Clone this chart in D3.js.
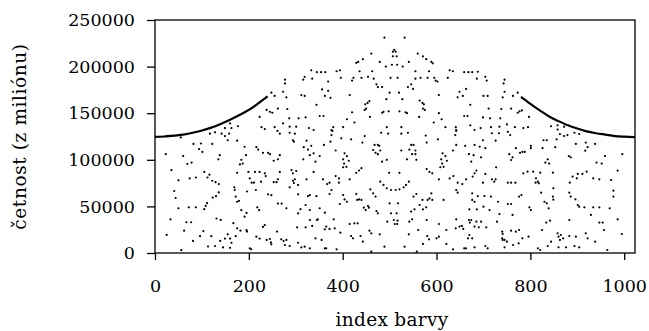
<!DOCTYPE html>
<html>
<head>
<meta charset="utf-8">
<script src="https://cdn.jsdelivr.net/npm/d3@7"></script>
<style>
  body { margin: 0; background: #fff; }
  svg { display: block; }
  text { font-family: "DejaVu Serif", serif; fill: #000; }
</style>
</head>
<body>
<svg id="chart" width="649" height="331"></svg>
<script>
// osa x: index barvy, osa y: cetnost
const xTicks = [0, 200, 400, 600, 800, 1000];
const yTicks = [0, 50000, 100000, 150000, 200000, 250000];

// horni obalka (husta krivka) - levy a pravy okraj
const curveLeftIdx = [0, 20, 40, 60, 80, 100, 120, 140, 160, 180, 200, 220, 240];
const curveLeftVal = [124500, 125000, 126000, 127000, 129000, 131500, 134500, 138500, 143000, 148000, 153500, 160500, 168000];
const curveRightIdx = [780, 800, 820, 840, 860, 880, 900, 920, 940, 960, 980, 1000, 1023];
const curveRightVal = [167500, 160000, 153000, 146500, 141500, 137000, 133500, 130500, 128500, 127000, 125500, 124800, 124300];

// rozptylene body [index, cetnost] - horni pas
const dotsTop = [
  [277,186000],[277,182000],[248,172000],[255,168500],[273,173000],[280,167000],[316,186000],[319,189000],
  [312,169500],[319,168500],[238,153500],[245,151500],[250,150500],[262,155000],[282,154500],[223,146000],
  [286,144500],[306,144500],[321,145500],[273,139000],[227,135000],[234,133000],[255,135000],[287,135500],
  [301,135500],[328,134000],[160,139000],[163,134000],[149,134000],[177,136000],
  [489,231000],[532,231000],[510,218000],[507,216000],[513,216000],[507,211000],[515,211000],[461,214000],
  [560,214000],[443,208000],[429,204000],[433,205000],[571,211000],[578,208000],[589,205000],[592,203500],
  [479,205000],[541,205000],[492,200000],[505,202000],[516,202000],[528,200000],[333,196000],[345,194000],
  [354,194000],[363,194000],[387,195000],[394,196000],[436,195000],[463,195000],[555,195000],[584,195000],
  [628,196000],[635,195000],[659,194000],[668,194000],[335,187000],[396,188000],[423,188000],[420,185000],
  [440,188000],[454,189000],[466,187000],[502,188000],[517,188000],[555,187000],[566,188000],[581,188000],
  [595,188000],[598,185000],[602,184000],[624,188000],[369,184000],[472,181000],[475,178000],[484,178000],
  [539,178000],[546,181000],[356,175500],[369,174000],[362,168500],[374,166500],[415,169500],[500,172000],
  [520,172000],[493,165000],[527,165000],[550,176000],[605,169500],[649,173000],[663,176000],[645,167000],
  [656,168500],[344,159000],[457,163000],[453,161000],[448,159500],[450,155000],[447,153500],[564,163500],
  [570,161000],[573,159500],[571,155000],[575,153500],[351,147000],[359,147000],[420,151000],[484,150500],
  [487,151500],[498,152000],[521,152000],[534,151000],[537,150000],[605,150000],[659,147000],[666,147000],
  [458,146000],[563,146000],[409,143500],[425,140000],[611,143500],[594,140000],[380,135000],[376,132000],
  [401,135000],[494,135000],[525,135000],[619,135000],[641,135000],[642,132000],[338,132000],
  [676,194000],[688,194500],[704,189000],[707,185000],[686,187000],[745,186000],[743,182000],[700,168500],
  [709,168500],[745,173000],[741,167000],[763,168500],[773,172000],[672,159000],[711,155000],[738,154500],
  [759,155000],[773,150500],[777,152000],[782,153000],[797,146000],[699,145500],[714,144500],[736,144500],
  [672,137000],[681,132000],[694,134000],[716,135000],[734,135500],[750,138000],[767,135000],[785,134000],
  [795,135000],[844,136000],[858,137000],[872,135500],[858,132500]
];

// rozptylene body [index, cetnost] - dolni pas
const dotsBottom = [
  [117,128000],[128,129500],[142,128000],[149,125500],[158,128000],[155,121000],[175,120500],[82,117000],
  [98,117500],[122,117000],[55,124000],[94,111500],[101,108500],[23,106000],[60,104000],[138,105000],
  [135,100500],[69,95500],[78,97000],[35,89000],[50,78000],[74,80000],[87,81000],[105,87000],[116,84000],
  [112,81000],[122,77500],[129,76000],[136,74000],[41,66500],[44,59000],[136,65000],[130,61000],[123,59500],
  [111,53500],[108,50500],[50,48000],[72,49000],[87,49000],[105,47000],[33,36000],[67,33000],[77,33000],
  [131,37000],[140,35500],[62,24000],[25,19500],[103,23500],[96,18000],[81,13000],[120,18000],[113,7000],
  [128,7500],[145,6000],[160,5500],[56,3000],[139,13000],[149,15500],[155,20000],[160,15500],[163,11000],
  [167,32000],[175,26500],[182,24000],[195,24500],[196,23000],[172,18000],[191,39000],[202,5000],[205,4000],
  [216,17500],[223,15500],[218,49000],[222,46000],[238,14000],[245,15000],[230,28000],[234,30000],[260,23000],
  [248,9300],[247,11400],[269,14700],[274,12900],[280,14000],[277,8600],[287,7500],[305,11000],[319,6800],
  [312,6000],[303,27500],[321,27500],[305,42500],[310,47000],[330,35400],[170,67600],[169,70500],[172,60500],
  [175,55000],[179,56000],[184,46000],[195,43000],[196,66000],[199,87000],[213,87000],[223,87000],[234,85500],
  [236,82500],[202,80000],[206,75500],[211,75500],[226,76500],[215,67600],[184,100000],[181,95000],[187,96000],
  [175,86000],[194,105000],[191,114000],[216,113500],[220,111000],[230,107500],[241,107500],[245,106000],
  [253,99000],[262,100500],[266,105000],[261,131000],[266,128000],[287,129000],[298,128000],[294,121000],
  [296,119500],[323,120500],[266,87000],[253,76000],[259,76000],[262,79000],[241,63000],[248,62000],
  [262,53000],[270,53000],[280,48000],[291,89000],[294,85500],[301,88000],[298,79000],[294,77500],[296,75000],
  [305,63000],[305,73000],[287,70500],[323,79000],[316,100500],[326,111000],[317,113500],[330,105000],
  [326,61000],[321,51500],
  [378,131000],[376,126500],[482,129000],[497,128000],[525,128000],[539,129000],[642,131000],[640,126500],
  [447,125500],[577,126000],[397,123000],[418,122000],[333,115000],[360,116000],[374,119500],[442,118500],
  [468,116000],[475,116000],[478,115000],[465,110500],[470,107500],[475,106000],[480,110000],[546,116000],
  [551,116000],[542,111000],[555,110000],[548,106000],[555,106000],[579,118500],[603,122000],[642,116000],
  [661,115000],[338,107000],[351,104000],[385,110000],[484,98000],[494,100000],[525,110000],[537,100500],
  [557,100000],[635,110000],[669,106000],[342,98000],[404,107000],[409,104000],[401,100500],[413,99000],
  [403,96000],[408,92500],[401,92000],[613,107000],[619,104000],[610,100500],[622,99000],[612,96000],
  [615,92500],[608,92000],[338,87000],[358,79000],[367,74000],[372,75500],[385,82500],[392,80000],[392,75500],
  [415,79000],[429,86000],[435,88500],[440,91000],[499,86000],[521,86000],[579,90000],[585,87000],[591,85500],
  [605,79000],[628,80000],[636,82500],[645,75500],[655,74000],[663,79000],[677,82000],[681,85500],[480,76500],
  [487,73000],[494,69500],[503,67600],[513,67600],[521,68300],[530,70500],[535,73000],[541,76500],[459,68300],
  [376,67600],[372,63300],[330,62200],[344,61000],[401,62200],[404,57500],[429,63300],[435,57500],[431,57000],
  [440,57000],[465,64000],[470,60500],[557,63300],[551,60500],[570,57000],[581,57000],[585,58600],[591,57000],
  [589,64000],[642,67600],[645,64700],[615,57000],[676,57000],[394,52600],[409,55000],[445,48600],[454,50400],
  [456,48600],[449,46100],[500,53300],[518,53300],[472,45000],[475,42600],[503,42600],[515,42600],[546,44400],
  [553,46900],[571,46900],[578,49000],[564,51500],[330,46100],[351,48000],[362,43300],[381,36100],[335,29000],
  [345,35400],[347,36100],[415,31100],[425,31800],[432,31800],[495,33600],[509,35400],[517,34700],[511,31100],
  [516,31100],[579,35400],[548,36100],[542,33600],[605,31100],[642,36100],[669,35400],[671,32600],[365,28300],
  [372,25800],[383,26500],[362,25400],[641,26500],[649,28300],[657,25800],[654,29000],[342,15700],[355,14000],
  [395,21800],[418,18200],[422,15700],[438,18200],[443,12200],[457,24000],[461,21100],[479,20000],[541,20000],
  [561,24700],[580,18200],[584,14700],[600,15700],[605,17500],[621,24700],[667,15700],[362,5000],[365,5000],
  [387,3900],[489,6800],[532,6800],[571,9700],[621,9700],[635,3900],[659,5000],[663,5000],[330,5000],
  [461,1400],[558,1400],
  [718,128500],[733,128500],[752,130000],[757,126500],[863,127700],[872,125500],[879,126500],[894,129000],
  [904,127700],[726,120500],[699,121000],[835,121000],[828,121000],[856,122000],[897,117000],[918,118500],
  [938,117000],[681,116000],[692,114000],[704,112500],[801,115000],[801,112500],[769,112500],[778,107500],
  [783,108500],[788,108500],[755,106000],[762,102700],[759,99800],[826,112500],[853,113500],[837,100500],
  [832,97000],[840,96000],[882,104000],[886,102700],[917,109800],[922,113500],[959,104000],[996,106000],
  [941,97000],[952,96000],[679,105000],[674,98000],[695,102700],[685,88400],[704,84800],[727,91900],
  [718,79000],[723,76500],[726,79000],[752,75500],[759,75500],[768,75500],[785,85500],[794,87300],[806,87300],
  [821,86200],[848,86200],[812,80100],[816,76500],[811,75500],[818,74800],[699,75500],[986,88400],[972,78300],
  [934,80100],[947,79000],[920,87300],[911,84800],[901,84800],[890,82000],[884,75500],[899,80100],[883,64700],
  [886,60500],[896,57600],[901,51500],[904,49700],[977,66900],[977,60500],[823,64700],[849,69400],[676,64000],
  [688,61100],[702,61100],[716,60500],[731,55000],[752,52600],[759,52600],[776,60500],[781,62200],[830,55000],
  [835,53300],[848,60500],[849,57200],[915,49000],[934,49000],[947,49000],[969,47900],[681,55000],[670,46900],
  [686,46900],[700,49700],[713,46100],[801,46100],[798,49000],[839,47900],[762,40800],[674,35400],[685,33600],
  [695,33600],[690,27500],[706,27500],[681,28300],[729,33600],[734,41800],[883,35400],[929,40800],[947,32600],
  [954,32600],[986,36100],[834,32600],[842,34700],[740,22900],[741,20400],[740,15700],[741,14000],[759,24000],
  [769,22900],[776,24700],[745,14000],[750,12200],[783,15700],[796,17500],[825,24700],[844,12200],[858,21100],
  [860,17500],[865,19300],[870,15700],[863,14000],[883,18200],[897,17500],[918,21100],[922,15700],[938,12200],
  [957,24700],[995,20400],[676,15700],[670,19300],[681,6100],[704,7500],[709,5000],[745,6100],[763,8600],
  [775,10400],[816,5000],[821,3200],[837,7500],[860,6100],[876,6100],[894,7500],[904,6100],[964,3200]
];

const svg = d3.select('#chart');
const mLeft = 155, mRight = 635, mTop = 20, mBottom = 253;
const serif = '"DejaVu Serif", serif';

const x = d3.scaleLinear().domain([0, 1023]).range([mLeft, mRight]);
const y = d3.scaleLinear().domain([0, 250000]).range([mBottom, mTop]);

// osy
const yAxis = svg.append('g')
  .attr('transform', `translate(${mLeft},0)`)
  .call(d3.axisLeft(y).tickValues(yTicks).tickSize(8).tickPadding(12).tickFormat(d3.format('d')));
const xAxis = svg.append('g')
  .attr('transform', `translate(0,${mBottom})`)
  .call(d3.axisBottom(x).tickValues(xTicks).tickSize(7).tickPadding(20).tickFormat(d3.format('d')));
[xAxis, yAxis].forEach(g => {
  g.attr('font-family', serif);
  g.select('.domain').remove();
  g.selectAll('line').attr('stroke', '#000').attr('stroke-width', 1.3);
  g.selectAll('text').style('font-family', serif).style('font-size', '17.5px').attr('fill', '#000');
});

// ramecek
svg.append('rect')
  .attr('x', mLeft).attr('y', mTop)
  .attr('width', mRight - mLeft).attr('height', mBottom - mTop)
  .attr('fill', 'none').attr('stroke', '#000').attr('stroke-width', 1.3);

const plot = svg.append('g');

// husta krivka
const line = d3.line().x(d => x(d[0])).y(d => y(d[1])).curve(d3.curveMonotoneX);
[[curveLeftIdx, curveLeftVal], [curveRightIdx, curveRightVal]].forEach(([ix, vals]) => {
  plot.append('path')
    .datum(ix.map((d, i) => [d, vals[i]]))
    .attr('d', line)
    .attr('fill', 'none').attr('stroke', '#000').attr('stroke-width', 2.2);
});

plot.selectAll('circle.dot')
  .data(dotsTop.concat(dotsBottom))
  .enter().append('circle')
  .attr('class', 'dot')
  .attr('cx', d => x(d[0]))
  .attr('cy', d => y(d[1]))
  .attr('r', 1.1)
  .attr('fill', '#000');

// popisky os
svg.append('text')
  .attr('transform', `translate(26,${(mTop + mBottom) / 2}) rotate(-90)`)
  .attr('text-anchor', 'middle')
  .style('font-family', serif)
  .style('font-size', '18.5px')
  .style('letter-spacing', '0.6px')
  .text('četnost (z miliónu)');

svg.append('text')
  .attr('x', 392).attr('y', 326)
  .attr('text-anchor', 'middle')
  .style('font-family', serif)
  .style('font-size', '18.5px')
  .style('letter-spacing', '0.3px')
  .text('index barvy');
</script>
</body>
</html>
